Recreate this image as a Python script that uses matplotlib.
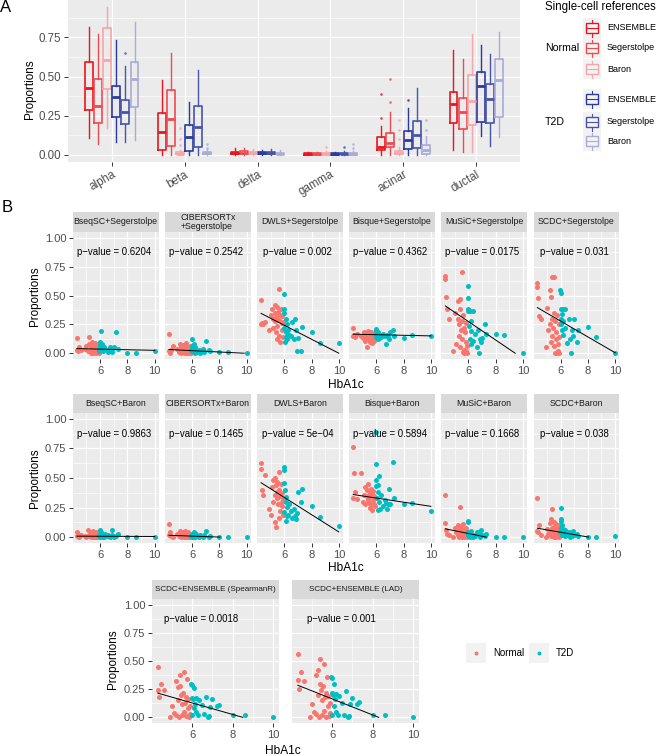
import numpy as np
import matplotlib
matplotlib.use("Agg")
import matplotlib.pyplot as plt
from matplotlib.patches import Rectangle

plt.rcParams["font.family"] = ["Liberation Sans", "DejaVu Sans"]

W, H = 658, 756

# ============================================================
# Panel A: box statistics
# order of groups: Normal ENSEMBLE, Segerstolpe, Baron, T2D ENSEMBLE, Segerstolpe, Baron
# ============================================================
cell_types = ["alpha", "beta", "delta", "gamma", "acinar", "ductal"]
ref_labels = ["ENSEMBLE", "Segerstolpe", "Baron"]
box_colors = ["#E8161E", "#EE4A50", "#F6A6AA", "#2B3B9B", "#4655A9", "#A9ABD8"]

whisker_lo = [
    [0.108, 0.067, 0.168, 0.082, 0.082, 0.093],
    [0.0, 0.0, 0.0, 0.0, 0.0, 0.0],
    [0.0, 0.0, 0.0, 0.0, 0.0, 0.0],
    [0.0, 0.0, 0.0, 0.0, 0.0, 0.0],
    [0.0, 0.0, 0.0, 0.0, 0.0, 0.0],
    [0.032, 0.017, 0.017, 0.118, 0.056, 0.114],
]
q1 = [
    [0.287, 0.200, 0.420, 0.244, 0.194, 0.308],
    [0.032, 0.056, 0.002, 0.024, 0.050, 0.003],
    [0.006, 0.007, 0.003, 0.004, 0.006, 0.002],
    [0.001, 0.001, 0.001, 0.001, 0.002, 0.001],
    [0.028, 0.050, 0.003, 0.034, 0.043, 0.006],
    [0.205, 0.162, 0.190, 0.211, 0.205, 0.244],
]
median = [
    [0.427, 0.312, 0.603, 0.366, 0.272, 0.487],
    [0.142, 0.226, 0.006, 0.110, 0.179, 0.008],
    [0.012, 0.013, 0.008, 0.009, 0.011, 0.006],
    [0.004, 0.004, 0.004, 0.003, 0.005, 0.004],
    [0.050, 0.075, 0.012, 0.093, 0.129, 0.028],
    [0.325, 0.272, 0.345, 0.442, 0.358, 0.476],
]
q3 = [
    [0.595, 0.487, 0.808, 0.442, 0.347, 0.595],
    [0.265, 0.416, 0.014, 0.190, 0.312, 0.016],
    [0.020, 0.022, 0.015, 0.015, 0.018, 0.012],
    [0.009, 0.009, 0.010, 0.008, 0.012, 0.010],
    [0.110, 0.136, 0.025, 0.150, 0.215, 0.060],
    [0.400, 0.362, 0.513, 0.530, 0.455, 0.610],
]
whisker_hi = [
    [0.815, 0.770, 0.944, 0.733, 0.567, 0.847],
    [0.476, 0.653, 0.030, 0.340, 0.545, 0.035],
    [0.040, 0.045, 0.035, 0.030, 0.035, 0.028],
    [0.020, 0.020, 0.022, 0.018, 0.025, 0.022],
    [0.183, 0.270, 0.050, 0.300, 0.427, 0.120],
    [0.670, 0.610, 0.770, 0.703, 0.642, 0.787],
]
# (cell type index, group index, value)
outliers = [
    (0, 4, 0.653),
    (1, 2, 0.06), (1, 2, 0.10), (1, 2, 0.17), (1, 5, 0.045), (1, 5, 0.07),
    (3, 2, 0.05), (3, 4, 0.05), (3, 5, 0.045), (3, 5, 0.07),
    (4, 0, 0.233), (4, 0, 0.388), (4, 1, 0.336), (4, 1, 0.487),
    (4, 2, 0.10), (4, 2, 0.16), (4, 2, 0.22), (4, 3, 0.347),
    (4, 5, 0.16), (4, 5, 0.222),
]

# ============================================================
# Panel B: HbA1c and estimated proportions per sample
# ============================================================
hba1c_normal = [4.3, 4.3, 4.35, 4.45, 4.6, 4.9, 5.0, 5.1, 5.2, 5.2,
                5.3, 5.3, 5.35, 5.4, 5.4, 5.45, 5.5, 5.5, 5.55, 5.6,
                5.6, 5.65, 5.7, 5.7, 5.75, 5.8, 5.8, 5.85, 5.9, 5.9]
hba1c_t2d = [5.95, 6.0, 6.0, 6.0, 6.05, 6.1, 6.1, 6.15, 6.2, 6.2,
             6.3, 6.35, 6.5, 6.6, 6.7, 6.8, 6.85, 6.9, 7.0, 7.2,
             7.3, 8.0, 8.6, 10.0]

facet_titles = [
    "BseqSC+Segerstolpe", "CIBERSORTx\n+Segerstolpe", "DWLS+Segerstolpe",
    "Bisque+Segerstolpe", "MuSiC+Segerstolpe", "SCDC+Segerstolpe",
    "BseqSC+Baron", "CIBERSORTx+Baron", "DWLS+Baron",
    "Bisque+Baron", "MuSiC+Baron", "SCDC+Baron",
    "SCDC+ENSEMBLE (SpearmanR)", "SCDC+ENSEMBLE (LAD)",
]
p_texts = [
    "0.6204", "0.2542", "0.002", "0.4362", "0.0175", "0.031",
    "0.9863", "0.1465", "5e\u221204", "0.5894", "0.1668", "0.038",
    "0.0018", "0.001",
]

normal_props = [
    [0.13, 0.03, 0.02, 0.05, 0.03, 0.04, 0.06, 0.02, 0.14, 0.08, 0.01, 0.05, 0.00, 0.10, 0.03,
     0.07, 0.00, 0.04, 0.02, 0.09, 0.01, 0.05, 0.03, 0.00, 0.06, 0.02, 0.08, 0.01, 0.04, 0.00],
    [0.17, 0.02, 0.00, 0.03, 0.06, 0.04, 0.01, 0.08, 0.05, 0.00, 0.02, 0.07, 0.03, 0.01, 0.04,
     0.00, 0.06, 0.02, 0.09, 0.00, 0.03, 0.05, 0.01, 0.02, 0.00, 0.04, 0.01, 0.06, 0.00, 0.02],
    [0.46, 0.25, 0.26, 0.25, 0.27, 0.20, 0.33, 0.38, 0.30, 0.22, 0.42, 0.28, 0.35, 0.18, 0.31,
     0.40, 0.24, 0.12, 0.36, 0.56, 0.29, 0.15, 0.33, 0.10, 0.38, 0.26, 0.20, 0.32, 0.27, 0.14],
    [0.22, 0.15, 0.16, 0.14, 0.17, 0.15, 0.13, 0.18, 0.16, 0.11, 0.05, 0.14, 0.19, 0.12, 0.16,
     0.15, 0.17, 0.10, 0.14, 0.18, 0.13, 0.16, 0.09, 0.15, 0.12, 0.17, 0.14, 0.11, 0.16, 0.13],
    [0.67, 0.64, 0.49, 0.38, 0.30, 0.02, 0.35, 0.08, 0.45, 0.30, 0.25, 0.15, 0.38, 0.47, 0.05,
     0.20, 0.70, 0.12, 0.28, 0.01, 0.33, 0.03, 0.22, 0.00, 0.18, 0.10, 0.02, 0.26, 0.06, 0.00],
    [0.61, 0.57, 0.48, 0.32, 0.30, 0.05, 0.39, 0.20, 0.55, 0.25, 0.10, 0.49, 0.30, 0.66, 0.15,
     0.22, 0.66, 0.06, 0.35, 0.00, 0.28, 0.12, 0.00, 0.18, 0.33, 0.02, 0.08, 0.25, 0.00, 0.14],
    [0.04, 0.01, 0.03, 0.00, 0.02, 0.01, 0.00, 0.057, 0.02, 0.01, 0.04, 0.00, 0.03, 0.01, 0.02,
     0.00, 0.05, 0.01, 0.02, 0.00, 0.03, 0.01, 0.00, 0.02, 0.01, 0.04, 0.00, 0.02, 0.01, 0.00],
    [0.11, 0.02, 0.04, 0.01, 0.00, 0.03, 0.01, 0.05, 0.02, 0.00, 0.04, 0.01, 0.03, 0.00, 0.02,
     0.05, 0.01, 0.00, 0.03, 0.02, 0.00, 0.01, 0.04, 0.00, 0.02, 0.01, 0.03, 0.00, 0.01, 0.02],
    [0.625, 0.58, 0.40, 0.355, 0.525, 0.24, 0.185, 0.42, 0.30, 0.48, 0.36, 0.13, 0.50, 0.085, 0.44,
     0.38, 0.33, 0.47, 0.28, 0.55, 0.16, 0.40, 0.35, 0.22, 0.45, 0.30, 0.37, 0.26, 0.32, 0.19],
    [0.76, 0.33, 0.54, 0.38, 0.32, 0.54, 0.30, 0.36, 0.42, 0.28, 0.35, 0.40, 0.31, 0.45, 0.33,
     0.29, 0.37, 0.25, 0.34, 0.41, 0.27, 0.36, 0.30, 0.23, 0.39, 0.32, 0.28, 0.35, 0.26, 0.33],
    [0.36, 0.12, 0.06, 0.03, 0.02, 0.00, 0.08, 0.04, 0.10, 0.02, 0.06, 0.00, 0.09, 0.03, 0.255,
     0.05, 0.01, 0.07, 0.00, 0.04, 0.11, 0.02, 0.06, 0.00, 0.03, 0.08, 0.01, 0.05, 0.00, 0.02],
    [0.33, 0.05, 0.04, 0.10, 0.02, 0.00, 0.07, 0.03, 0.12, 0.05, 0.156, 0.01, 0.08, 0.04, 0.24,
     0.06, 0.00, 0.13, 0.02, 0.09, 0.05, 0.00, 0.11, 0.03, 0.07, 0.01, 0.04, 0.10, 0.00, 0.06],
    [0.45, 0.24, 0.18, 0.30, 0.24, 0.00, 0.10, 0.04, 0.32, 0.02, 0.27, 0.15, 0.00, 0.28, 0.38,
     0.20, 0.12, 0.02, 0.22, 0.40, 0.05, 0.13, 0.01, 0.18, 0.34, 0.08, 0.16, 0.00, 0.10, 0.03],
    [0.56, 0.33, 0.25, 0.40, 0.32, 0.00, 0.12, 0.05, 0.38, 0.03, 0.42, 0.20, 0.00, 0.30, 0.52,
     0.24, 0.15, 0.02, 0.28, 0.47, 0.06, 0.18, 0.00, 0.22, 0.36, 0.10, 0.19, 0.01, 0.13, 0.04],
]
t2d_props = [
    [0.02, 0.10, 0.05, 0.07, 0.03, 0.19, 0.04, 0.08, 0.06, 0.02, 0.05, 0.04,
     0.03, 0.01, 0.05, 0.02, 0.04, 0.01, 0.05, 0.18, 0.04, 0.00, 0.00, 0.02],
    [0.03, 0.06, 0.12, 0.02, 0.04, 0.01, 0.08, 0.03, 0.00, 0.05, 0.02, 0.01,
     0.03, 0.00, 0.02, 0.04, 0.01, 0.02, 0.11, 0.03, 0.02, 0.01, 0.01, 0.00],
    [0.22, 0.51, 0.38, 0.35, 0.10, 0.30, 0.18, 0.14, 0.25, 0.12, 0.20, 0.16,
     0.15, 0.27, 0.12, 0.30, 0.20, 0.02, 0.13, 0.02, 0.23, 0.18, 0.09, 0.085],
    [0.14, 0.19, 0.16, 0.21, 0.15, 0.18, 0.12, 0.17, 0.15, 0.13, 0.16, 0.14,
     0.17, 0.15, 0.08, 0.16, 0.14, 0.12, 0.18, 0.20, 0.15, 0.13, 0.155, 0.15],
    [0.58, 0.48, 0.38, 0.37, 0.24, 0.37, 0.12, 0.19, 0.08, 0.28, 0.37, 0.11,
     0.165, 0.05, 0.20, 0.00, 0.12, 0.10, 0.13, 0.25, 0.17, 0.165, 0.16, 0.00],
    [0.545, 0.52, 0.38, 0.25, 0.30, 0.34, 0.20, 0.28, 0.16, 0.38, 0.22, 0.38,
     0.09, 0.30, 0.12, 0.00, 0.20, 0.15, 0.30, 0.10, 0.20, 0.23, 0.14, 0.00],
    [0.01, 0.06, 0.03, 0.00, 0.02, 0.01, 0.04, 0.00, 0.02, 0.01, 0.00, 0.03,
     0.01, 0.02, 0.00, 0.01, 0.06, 0.02, 0.00, 0.01, 0.03, 0.00, 0.00, 0.00],
    [0.01, 0.03, 0.02, 0.00, 0.01, 0.04, 0.00, 0.02, 0.01, 0.00, 0.03, 0.01,
     0.00, 0.02, 0.01, 0.00, 0.02, 0.01, 0.05, 0.00, 0.01, 0.00, 0.00, 0.00],
    [0.59, 0.57, 0.455, 0.21, 0.40, 0.34, 0.14, 0.30, 0.255, 0.18, 0.185, 0.28,
     0.22, 0.16, 0.24, 0.18, 0.15, 0.20, 0.38, 0.30, 0.41, 0.26, 0.17, 0.09],
    [0.43, 0.89, 0.62, 0.48, 0.33, 0.38, 0.23, 0.44, 0.30, 0.52, 0.24, 0.36,
     0.26, 0.31, 0.29, 0.24, 0.28, 0.41, 0.28, 0.635, 0.33, 0.28, 0.29, 0.22],
    [0.02, 0.136, 0.13, 0.04, 0.01, 0.03, 0.00, 0.02, 0.05, 0.01, 0.00, 0.02,
     0.01, 0.04, 0.03, 0.04, 0.00, 0.06, 0.02, 0.01, 0.03, 0.00, 0.00, 0.00],
    [0.04, 0.25, 0.156, 0.14, 0.08, 0.10, 0.02, 0.05, 0.07, 0.03, 0.01, 0.06,
     0.02, 0.04, 0.00, 0.03, 0.01, 0.05, 0.02, 0.03, 0.01, 0.00, 0.00, 0.01],
    [0.30, 0.29, 0.17, 0.02, 0.16, 0.26, 0.08, 0.12, 0.05, 0.17, 0.02, 0.15,
     0.11, 0.03, 0.18, 0.00, 0.01, 0.09, 0.16, 0.10, 0.11, 0.02, 0.02, 0.00],
    [0.36, 0.35, 0.22, 0.02, 0.20, 0.30, 0.10, 0.16, 0.05, 0.21, 0.02, 0.19,
     0.13, 0.02, 0.23, 0.00, 0.01, 0.12, 0.17, 0.12, 0.14, 0.02, 0.02, 0.00],
]
# fitted line: value at the lowest HbA1c and slope (line stops at 0)
fit_start = [0.040, 0.032, 0.345, 0.165, 0.410, 0.395, 0.008, 0.015,
             0.460, 0.360, 0.070, 0.075, 0.215, 0.285]
fit_slope = [-0.0026, -0.0058, -0.0605, -0.0026, -0.0800, -0.0685, -0.0005, -0.0040,
             -0.0730, -0.0175, -0.0233, -0.0200, -0.0512, -0.0713]

COL_N = "#F8766D"
COL_T = "#00BFC4"
BG = "#EBEBEB"


def px_axes(fig, x0, y0, x1, y1, **kw):
    return fig.add_axes([x0 / W, 1 - y1 / H, (x1 - x0) / W, (y1 - y0) / H], **kw)


def gg_style(ax, size=8.0):
    ax.set_facecolor(BG)
    for s in ax.spines.values():
        s.set_visible(False)
    ax.set_axisbelow(True)
    ax.grid(which="major", color="white", lw=0.9)
    ax.grid(which="minor", color="white", lw=0.45)
    ax.tick_params(which="major", length=3.2, width=0.7, color="#333333",
                   labelcolor="#4D4D4D", labelsize=size, pad=1.5)
    ax.tick_params(which="minor", length=0)


fig = plt.figure(figsize=(W / 100, H / 100), dpi=100)

# ============================================================
# Panel A
# ============================================================
axA = px_axes(fig, 68, 0, 520, 162)
gg_style(axA, 8.3)
for ci in range(len(cell_types)):
    for gi in range(6):
        pos = ci + (gi - 2.5) * 0.125
        c = box_colors[gi]
        st = dict(whislo=whisker_lo[ci][gi], q1=q1[ci][gi], med=median[ci][gi],
                  q3=q3[ci][gi], whishi=whisker_hi[ci][gi])
        axA.bxp([st], positions=[pos], widths=0.108, showfliers=False, showcaps=False,
                boxprops=dict(color=c, lw=1.2),
                medianprops=dict(color=c, lw=2.0),
                whiskerprops=dict(color=c, lw=1.0), manage_ticks=False)
for ci, gi, v in outliers:
    axA.scatter([ci + (gi - 2.5) * 0.125], [v], s=3.5, color=box_colors[gi], lw=0, alpha=0.8)
axA.set_xlim(-0.6, 5.6)
axA.set_ylim(-0.047, 0.99)
axA.set_xticks(range(len(cell_types)))
axA.set_xticklabels(cell_types, rotation=30, ha="right", rotation_mode="anchor", fontsize=8.4)
axA.set_yticks([0, 0.25, 0.5, 0.75])
axA.set_yticklabels(["0.00", "0.25", "0.50", "0.75"])
axA.set_yticks([0.125, 0.375, 0.625, 0.875], minor=True)

# ============================================================
# Panel B
# ============================================================
panel_pos = []
for r, (y0, y1) in enumerate([(232, 359), (413, 543)]):
    for c in range(6):
        x0 = 73 + c * 92.1
        panel_pos.append((x0, y0, x0 + 85.5, y1, 212 if r == 0 else 394, c == 0, 7.0, 6.35))
panel_pos.append((152, 599, 279, 723, 580, True, 6.45, 5.8))
panel_pos.append((292, 599, 419, 723, 580, False, 6.45, 5.8))

x_lo = min(hba1c_normal)
x_hi = max(hba1c_t2d)
for k, (x0, y0, x1, y1, sy, first, ann_x, strip_fs) in enumerate(panel_pos):
    ax = px_axes(fig, x0, y0, x1, y1)
    gg_style(ax, 8.0)
    ax.scatter(hba1c_normal, normal_props[k], s=13, color=COL_N, lw=0, zorder=3)
    ax.scatter(hba1c_t2d, t2d_props[k], s=13, color=COL_T, lw=0, zorder=3)
    x_end = x_hi
    if fit_slope[k] < 0:
        x_end = min(x_hi, x_lo - fit_start[k] / fit_slope[k])
    xs = np.array([x_lo, x_end])
    ax.plot(xs, fit_start[k] + fit_slope[k] * (xs - x_lo), color="black", lw=0.7, zorder=4)
    ax.text(ann_x, 0.875, "p\u2212value = " + p_texts[k], ha="center", va="center",
            fontsize=6.9, color="black")
    rng = x_hi - x_lo
    ax.set_xlim(x_lo - 0.05 * rng, x_hi + 0.05 * rng)
    ax.set_ylim(-0.05, 1.05)
    ax.set_xticks([6, 8, 10])
    ax.set_xticks([5, 7, 9], minor=True)
    ax.set_yticks([0, 0.25, 0.5, 0.75, 1.0])
    ax.set_yticks([0.125, 0.375, 0.625, 0.875], minor=True)
    if first:
        ax.set_yticklabels(["0.00", "0.25", "0.50", "0.75", "1.00"])
    else:
        ax.tick_params(axis="y", which="major", length=0, labelleft=False)
    # strip
    st = px_axes(fig, x0, sy, x1, y0)
    st.set_facecolor("#D9D9D9")
    st.set_xticks([])
    st.set_yticks([])
    for s in st.spines.values():
        s.set_visible(False)
    st.text(0.5, 0.5, facet_titles[k], ha="center", va="center", multialignment="left",
            fontsize=strip_fs, color="#1A1A1A", transform=st.transAxes, linespacing=0.95,
            clip_on=True)

# ============================================================
# Labels and legends in pixel coordinates
# ============================================================
ov = fig.add_axes([0, 0, 1, 1], zorder=10)
ov.set_xlim(0, W)
ov.set_ylim(H, 0)
ov.axis("off")

ov.text(6, 8, "A", fontsize=12, ha="center", va="center")
ov.text(7, 207, "B", fontsize=12, ha="center", va="center")
for x, y in [(30, 89), (35, 296), (35, 478), (113, 659)]:
    ov.text(x, y, "Proportions", rotation=90, fontsize=8.4, ha="center", va="center")
for x, y in [(346, 385), (346, 568), (283, 751)]:
    ov.text(x, y, "HbA1c", fontsize=8.6, ha="center", va="center")

# legend A
ov.text(545, 7, "Single-cell references", fontsize=8.3, ha="left", va="center")
ov.text(545, 48, "Normal", fontsize=7.6, ha="left", va="center")
ov.text(545, 122, "T2D", fontsize=7.6, ha="left", va="center")
key_y = [28, 48, 69, 99, 122, 141]
for gi, ky in enumerate(key_y):
    c = box_colors[gi]
    ov.add_patch(Rectangle((583, ky - 10), 18, 20, fc="#F2F2F2", ec="none"))
    ov.add_patch(Rectangle((585.5, ky - 5), 12, 10, fill=False, ec=c, lw=1.0))
    ov.plot([585.5, 597.5], [ky, ky], color=c, lw=0.8)
    ov.plot([591.5, 591.5], [ky - 8.5, ky - 5], color=c, lw=0.8)
    ov.plot([591.5, 591.5], [ky + 5, ky + 8.5], color=c, lw=0.8)
    ov.text(607, ky, ref_labels[gi % 3], fontsize=6.5, ha="left", va="center")

# legend B
for kx, col, lab in [(466, COL_N, "Normal"), (529, COL_T, "T2D")]:
    ov.add_patch(Rectangle((kx, 643), 20, 20, fc="#F2F2F2", ec="none"))
    ov.scatter([kx + 10], [653], s=8, color=col, lw=0)
    ov.text(kx + 27, 653, lab, fontsize=7.0, ha="left", va="center")

fig.savefig("out.png", dpi=100)
